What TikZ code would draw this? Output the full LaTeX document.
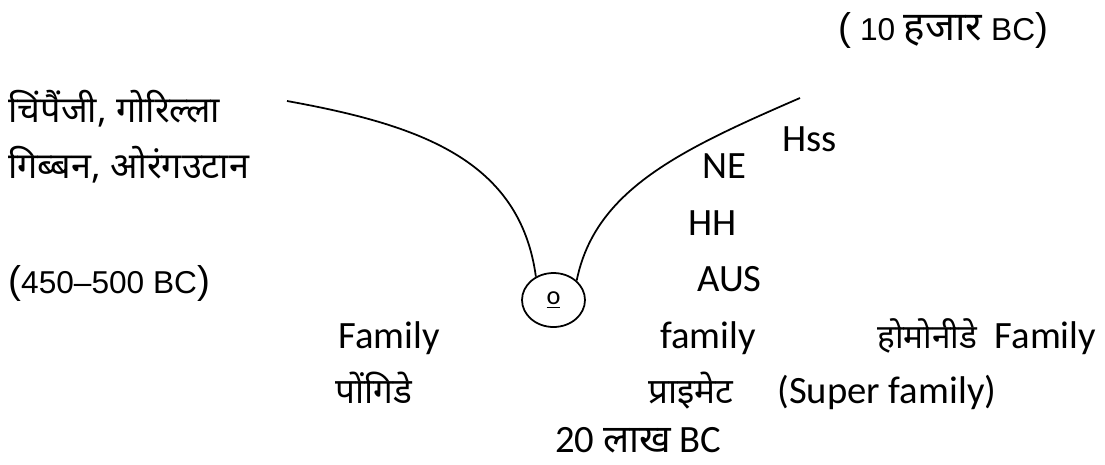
\documentclass[tikz,border=0pt]{standalone}
\usepackage{fontspec}
\setmainfont{Carlito}
\newfontfamily\devfont[Script=Devanagari]{Noto Sans}
\newfontfamily\arialfont{Liberation Sans}
\usepackage{tikz}
\usetikzlibrary{shapes.geometric}
\newcommand{\dv}[2]{{\fontsize{#1}{#1}\selectfont\devfont #2}}
\newcommand{\bigpar}[1]{{\fontsize{22}{26}\selectfont #1}}

\begin{document}
\begin{tikzpicture}[x=0.02cm,y=-0.02cm
                   ,lbl/.style={anchor=base west,inner sep=0pt,font=\fontsize{22}{26}\selectfont}
                   ,dlbl/.style={lbl,font=\fontsize{20}{24}\selectfont\devfont}
                   ,albl/.style={lbl,font=\fontsize{18}{22}\selectfont\arialfont}
                   ,branch/.style={line width=1pt}]
\useasboundingbox (0,0) rectangle (1105,464);
\node[ellipse,draw,line width=1pt,inner sep=0pt
     ,minimum width=1.26cm,minimum height=1.08cm
     ,font=\fontsize{15}{15}\selectfont] (root) at (553.5,300) {\underline{o}};
\coordinate (ltop) at (287,101);
\coordinate (rtop) at (800,98);
\draw[branch] (ltop) .. controls (420,125) and (520,160) .. (root.127);
\draw[branch] (root.40) .. controls (595,190) and (680,150) .. (rtop);

\node[albl] (tenk)    at (838,40)  {\bigpar{(} 10 \dv{23}{हजार} BC\bigpar{)}};
\node[dlbl,font=\fontsize{20.5}{24}\selectfont\devfont] (chimp)  at (8,122) {चिंपैंजी, गोरिल्ला};
\node[dlbl,font=\fontsize{20.5}{24}\selectfont\devfont] (gibbon) at (8,178) {गिब्बन, ओरंगउटान};
\node[albl] (apesage) at (8,293)   {\bigpar{(}450–500 BC\bigpar{)}};
\node[lbl]  (hss)     at (782,151) {Hss};
\node[lbl]  (ne)      at (702,178) {NE};
\node[lbl]  (hh)      at (688,235) {HH};
\node[lbl]  (aus)     at (697,291) {AUS};
\node[lbl]  (pongfam) at (338,348) {Family};
\node[lbl]  (primfam) at (660,348) {family};
\node[lbl]  (homfam)  at (877,348) {\dv{19}{होमोनीडे}\ \ Family};
\node[dlbl] (pong)    at (335,403) {पोंगिडे};
\node[dlbl] (prim)    at (648,403) {प्राइमेट};
\node[lbl]  (super)   at (777,403) {(Super family)};
\node[lbl]  (lakh)    at (555,452) {20 \dv{22}{लाख} BC};
\end{tikzpicture}
\end{document}
